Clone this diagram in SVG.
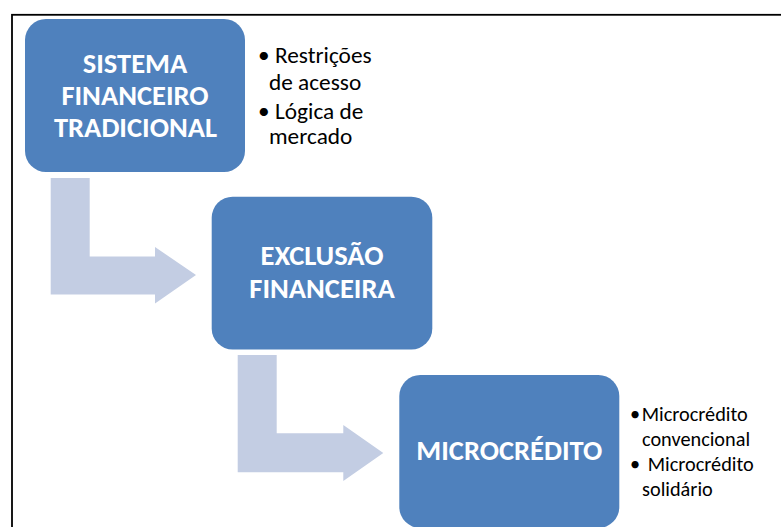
<svg xmlns="http://www.w3.org/2000/svg" width="781" height="527" viewBox="0 0 781 527">
<style>
.box{fill:#4F81BD;}
.arrow{fill:#C3CDE3;}
.bt{font-family:Carlito,Lato,"Liberation Sans",sans-serif;font-weight:bold;fill:#FFFFFF;text-anchor:middle;font-size:28.5px;}
.lt{font-family:Carlito,Lato,"Liberation Sans",sans-serif;fill:#000000;font-size:23.3px;}
.mt{font-family:Carlito,Lato,"Liberation Sans",sans-serif;fill:#000000;font-size:20.3px;}
</style>
<rect x="12" y="14.8" width="820" height="620" fill="#FFFFFF" stroke="#000000" stroke-width="1.8"/>
<g id="connectors">
<polygon class="arrow" points="50.7,178 89.7,178 89.7,256.5 155,256.5 155,247 196,275 155,303.5 155,294.5 50.7,294.5"/>
<polygon class="arrow" points="237.7,355 276.7,355 276.7,433.3 343.3,433.3 343.3,425 383.3,453 343.3,481 343.3,472.3 237.7,472.3"/>
</g>
<g id="node-sistema">
<rect class="box" x="25" y="19" width="220" height="153" rx="21"/>
<text class="bt" x="135" y="72.5">SISTEMA</text>
<text class="bt" x="135" y="104.8">FINANCEIRO</text>
<text class="bt" x="135.5" y="136.8">TRADICIONAL</text>
</g>
<g id="notes-sistema">
<text class="lt" x="258" y="63">•<tspan x="275">Restrições</tspan><tspan x="269" y="90">de acesso</tspan></text>
<text class="lt" x="258" y="118.5">•<tspan x="275">Lógica de</tspan><tspan x="269" y="144">mercado</tspan></text>
</g>
<g id="node-exclusao">
<rect class="box" x="211.7" y="196.7" width="220.6" height="152.8" rx="21"/>
<text class="bt" x="322" y="265">EXCLUSÃO</text>
<text class="bt" x="322" y="298">FINANCEIRA</text>
</g>
<g id="node-microcredito">
<rect class="box" x="399.3" y="375" width="220" height="153" rx="21"/>
<text class="bt" x="509.3" y="460">MICROCRÉDITO</text>
</g>
<g id="notes-microcredito">
<text class="mt" x="630" y="421">•<tspan x="641.7">Microcrédito</tspan><tspan x="642" y="445.5">convencional</tspan></text>
<text class="mt" x="630" y="471">•<tspan x="647.7">Microcrédito</tspan><tspan x="642" y="495.5">solidário</tspan></text>
</g>
</svg>
